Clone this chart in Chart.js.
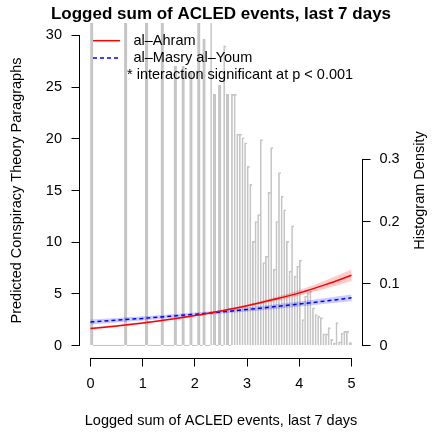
<!DOCTYPE html>
<html>
<head>
<meta charset="utf-8">
<script src="https://cdn.jsdelivr.net/npm/chart.js@4.4.1/dist/chart.umd.min.js"></script>
<style>
  html, body { margin: 0; padding: 0; background: #fff; }
  canvas { display: block; }
</style>
</head>
<body>
<canvas id="chart" width="435" height="432"></canvas>
<script>
const xGrid = [0, 0.5, 1, 1.5, 2, 2.5, 3, 3.5, 4, 4.5, 5];

// al-Ahram fit and its band
const ahramFit  = [1.65, 1.90, 2.19, 2.52, 2.90, 3.35, 3.85, 4.45, 5.10, 5.90, 6.80];
const ahramLow  = [1.55, 1.81, 2.10, 2.44, 2.83, 3.27, 3.74, 4.28, 4.85, 5.50, 6.25];
const ahramHigh = [1.75, 1.99, 2.28, 2.60, 2.97, 3.43, 3.96, 4.62, 5.38, 6.30, 7.35];

// al-Masry al-Youm fit and its band
const masryFit  = [2.29, 2.46, 2.63, 2.83, 3.03, 3.25, 3.49, 3.75, 4.02, 4.31, 4.62];
const masryLow  = [2.05, 2.24, 2.43, 2.65, 2.87, 3.09, 3.30, 3.52, 3.78, 4.05, 4.30];
const masryHigh = [2.53, 2.68, 2.83, 3.01, 3.19, 3.41, 3.68, 3.98, 4.26, 4.60, 4.95];

// histogram of the logged event sums, bins of 0.05 starting at 0
const binWidth = 0.05;
const histDensity = [
  0.70, 0, 0, 0, 0, 0, 0, 0, 0, 0,
  0, 0, 0, 0.70, 0, 0, 0, 0, 0, 0,
  0, 0.70, 0, 0, 0, 0, 0, 0.70, 0, 0,
  0, 0, 0.45, 0, 0, 0.45, 0, 0, 0.44, 0,
  0, 0.70, 0, 0.494, 0, 0, 0.53, 0.405, 0, 0.42,
  0, 0.483, 0.405, 0, 0.405, 0.405, 0.341, 0.341, 0.335, 0.327,
  0.289, 0.26, 0.168, 0.20, 0.211, 0.332, 0.134, 0.144, 0.247, 0.319,
  0.123, 0.20, 0.279, 0.241, 0.219, 0.168, 0.12, 0.193, 0.112, 0.128,
  0.138, 0.042, 0.08, 0.085, 0.088, 0.061, 0.05, 0.047, 0.045, 0.019,
  0.019, 0.029, 0.01, 0.004, 0.037, 0.006, 0.02, 0.023, 0.023, 0.005
];

const xTicks = [0, 1, 2, 3, 4, 5];
const yTicks = [0, 5, 10, 15, 20, 25, 30];
const densityTicks = [0, 0.1, 0.2, 0.3];

const mainTitle = 'Logged sum of ACLED events, last 7 days';
const xTitle = 'Logged sum of ACLED events, last 7 days';
const yTitle = 'Predicted Conspiracy Theory Paragraphs';
const y2Title = 'Histogram Density';
const legendLabels = ['al\u2013Ahram', 'al\u2013Masry al\u2013Youm', '* interaction significant at p < 0.001'];

const FONT = '"Liberation Sans", Arial, Helvetica, sans-serif';
Chart.defaults.font.family = FONT;
Chart.defaults.font.size = 14.5;
Chart.defaults.color = '#000';

function pts(vals) {
  return xGrid.map((x, i) => ({ x: x, y: vals[i] }));
}

// neighbouring bins share an edge, like hist() outlines
function binBorder(c) {
  const i = c.dataIndex;
  const next = histDensity[i + 1];
  return { left: 1, top: 1, bottom: 0, right: (next === undefined || next === 0) ? 1 : 0 };
}

// base R look: axis lines only between end ticks, title, right label, legend
const rPlot = {
  id: 'rPlot',
  afterDraw(chart) {
    const { ctx, chartArea: a, scales } = chart;
    const al = p => Math.round(p - 0.5) + 0.5;
    ctx.save();
    ctx.strokeStyle = '#000';
    ctx.lineWidth = 1;
    ctx.beginPath();
    ctx.moveTo(al(scales.x.getPixelForValue(xTicks[0])) - 0.5, a.bottom + 0.5);
    ctx.lineTo(al(scales.x.getPixelForValue(xTicks[xTicks.length - 1])) + 0.5, a.bottom + 0.5);
    ctx.moveTo(a.left - 0.5, al(scales.y.getPixelForValue(yTicks[0])) + 0.5);
    ctx.lineTo(a.left - 0.5, al(scales.y.getPixelForValue(yTicks[yTicks.length - 1])) - 0.5);
    ctx.moveTo(a.right + 0.5, al(scales.yd.getPixelForValue(densityTicks[0])) + 0.5);
    ctx.lineTo(a.right + 0.5, al(scales.yd.getPixelForValue(densityTicks[densityTicks.length - 1])) - 0.5);
    ctx.stroke();

    ctx.fillStyle = '#000';
    ctx.textBaseline = 'middle';
    ctx.textAlign = 'center';
    ctx.font = 'bold 17px ' + FONT;
    ctx.fillText(mainTitle, (a.left + a.right) / 2, 14.5);

    ctx.font = '14.5px ' + FONT;
    ctx.save();
    ctx.translate(420, (a.top + a.bottom) / 2);
    ctx.rotate(-Math.PI / 2);
    ctx.fillText(y2Title, 0, 0);
    ctx.restore();

    // legend
    const lx = a.left + 13, tx = a.left + 53.5;
    const rows = [a.top + 17.7, a.top + 35, a.top + 52];
    ctx.lineWidth = 1.5;
    ctx.strokeStyle = '#ff0000';
    ctx.beginPath();
    ctx.moveTo(lx, rows[0]);
    ctx.lineTo(lx + 27, rows[0]);
    ctx.stroke();
    ctx.strokeStyle = '#0000ff';
    ctx.setLineDash([4, 3]);
    ctx.beginPath();
    ctx.moveTo(lx, rows[1]);
    ctx.lineTo(lx + 27, rows[1]);
    ctx.stroke();
    ctx.setLineDash([]);
    ctx.textAlign = 'left';
    ctx.fillText(legendLabels[0], tx, rows[0]);
    ctx.fillText(legendLabels[1], tx, rows[1]);
    ctx.fillText(legendLabels[2], a.left + 47, rows[2]);
    ctx.restore();
  }
};

const ctx = document.getElementById('chart');

new Chart(ctx, {
  type: 'line',
  data: {
    datasets: [
      {
        type: 'bar',
        label: 'hist',
        data: histDensity.map((d, i) => ({ x: binWidth * (i + 0.5), y: d })),
        yAxisID: 'yd',
        backgroundColor: 'rgba(255,255,255,0)',
        borderColor: '#c4c4c4',
        borderWidth: binBorder,
        borderSkipped: false,
        barPercentage: 1,
        categoryPercentage: 1,
        minBarLength: 1,
        clip: 0,
        order: 10
      },
      {
        label: 'ahramLow', data: pts(ahramLow), yAxisID: 'y',
        borderWidth: 0, pointRadius: 0, fill: false, order: 5, cubicInterpolationMode: 'monotone'
      },
      {
        label: 'ahramHigh', data: pts(ahramHigh), yAxisID: 'y',
        borderWidth: 0, pointRadius: 0, fill: '-1', backgroundColor: 'rgba(255,0,0,0.2)',
        order: 5, cubicInterpolationMode: 'monotone'
      },
      {
        label: 'masryLow', data: pts(masryLow), yAxisID: 'y',
        borderWidth: 0, pointRadius: 0, fill: false, order: 5, cubicInterpolationMode: 'monotone'
      },
      {
        label: 'masryHigh', data: pts(masryHigh), yAxisID: 'y',
        borderWidth: 0, pointRadius: 0, fill: '-1', backgroundColor: 'rgba(0,0,255,0.2)',
        order: 5, cubicInterpolationMode: 'monotone'
      },
      {
        label: legendLabels[0], data: pts(ahramFit), yAxisID: 'y',
        borderColor: '#ff0000', borderWidth: 1.5, pointRadius: 0, fill: false,
        order: 0, cubicInterpolationMode: 'monotone'
      },
      {
        label: legendLabels[1], data: pts(masryFit), yAxisID: 'y',
        borderColor: '#0000ff', borderWidth: 1.5, borderDash: [4, 3], pointRadius: 0, fill: false,
        order: 0, cubicInterpolationMode: 'monotone'
      }
    ]
  },
  options: {
    responsive: false,
    devicePixelRatio: 1,
    animation: false,
    events: [],
    layout: { padding: { top: 23, left: 0, right: 0, bottom: 0 } },
    plugins: {
      legend: { display: false },
      tooltip: { enabled: false },
      title: { display: false }
    },
    scales: {
      x: {
        type: 'linear',
        min: -0.2,
        max: 5.2,
        offset: false,
        afterBuildTicks: s => { s.ticks = xTicks.map(v => ({ value: v })); },
        afterFit: s => { s.height = 74; },
        grid: { drawOnChartArea: false, offset: false, tickLength: 8.5, tickColor: '#000' },
        border: { display: false },
        ticks: { padding: 9, maxRotation: 0, callback: v => String(v) },
        title: { display: true, text: xTitle, padding: { top: 0, bottom: 2.8 } }
      },
      y: {
        type: 'linear',
        position: 'left',
        min: -1.2,
        max: 31.2,
        afterBuildTicks: s => { s.ticks = yTicks.map(v => ({ value: v })); },
        afterFit: s => { s.width = 80; },
        grid: { drawOnChartArea: false, tickLength: 8.5, tickColor: '#000' },
        border: { display: false },
        ticks: { padding: 9.5, callback: v => String(v) },
        title: { display: true, text: yTitle, padding: { top: 8.3, bottom: 0 } }
      },
      yd: {
        type: 'linear',
        position: 'right',
        min: -0.02,
        max: 0.52,
        afterBuildTicks: s => { s.ticks = densityTicks.map(v => ({ value: v })); },
        afterFit: s => { s.width = 73; },
        grid: { drawOnChartArea: false, tickLength: 8.5, tickColor: '#000' },
        border: { display: false },
        ticks: { padding: 9, callback: v => String(v) }
      }
    }
  },
  plugins: [rPlot]
});
</script>
</body>
</html>
